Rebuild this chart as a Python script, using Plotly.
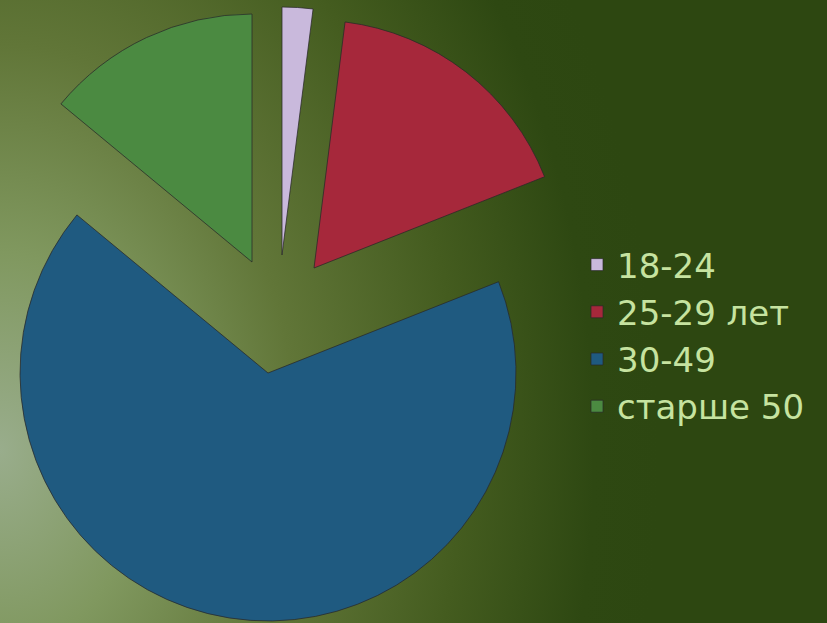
import plotly.graph_objects as go

W, H = 827, 623

labels = ["18-24", "25-29 лет", "30-49", "старше 50"]
values = [2, 17, 67, 14]
colors = ["#c9b9dc", "#a6283b", "#1f5a80", "#4b8a41"]

# where the tip of every slice sits once it has been pulled out (px)
tips_x = [282, 314, 268, 252]
tips_y = [255, 268, 373, 262]
radius = 248

# radial background, light at the left edge, dark olive on the right
bg_stops = [0, 0.22, 0.45, 0.7, 0.9, 1]
bg_colors = ["#99ad8c", "#80985f", "#617638", "#445c1f", "#2e4812", "#2d4711"]
bg_dark = "#2d4711"

fig = go.Figure()

# background glow (clipped to the plot area)
gx, gy, rx, ry = 0, 450, 660, 900
fig.add_trace(go.Scatter(
    x=[gx - rx, gx + rx, gx + rx, gx - rx, gx - rx],
    y=[gy - ry, gy - ry, gy + ry, gy + ry, gy - ry],
    mode="lines", fill="toself", line=dict(width=0),
    fillgradient=dict(type="radial", colorscale=list(zip(bg_stops, bg_colors))),
    hoverinfo="skip", showlegend=False))

# legend-only pie, tucked underneath the big slice
fig.add_trace(go.Pie(
    labels=labels, values=values, sort=False, direction="clockwise",
    marker=dict(colors=colors, line=dict(color="rgba(40,40,40,0.7)", width=1)),
    textinfo="none", hoverinfo="skip",
    domain=dict(x=[268 / W, 269 / W], y=[1 - 501 / H, 1 - 500 / H])))

# one pie per slice so every slice can be moved freely
for i in range(len(labels)):
    cx, cy = tips_x[i], tips_y[i]
    fig.add_trace(go.Pie(
        labels=labels, values=values, sort=False, direction="clockwise",
        marker=dict(colors=[c if j == i else "rgba(0,0,0,0)" for j, c in enumerate(colors)],
                    line=dict(color="rgba(40,40,40,0.75)",
                              width=[1 if j == i else 0 for j in range(len(labels))])),
        textinfo="none", showlegend=False,
        domain=dict(x=[(cx - radius) / W, (cx + radius) / W],
                    y=[1 - (cy + radius) / H, 1 - (cy - radius) / H])))

fig.update_layout(
    width=W, height=H,
    margin=dict(l=0, r=0, t=0, b=0),
    paper_bgcolor=bg_dark, plot_bgcolor=bg_dark,
    xaxis=dict(range=[0, W], visible=False, fixedrange=True),
    yaxis=dict(range=[H, 0], visible=False, fixedrange=True),
    legend=dict(x=577 / W, y=1 - 236 / H, xanchor="left", yanchor="top",
                font=dict(family="DejaVu Sans", size=34, color="#c6e3a0"),
                bgcolor="rgba(0,0,0,0)"),
    showlegend=True,
)

# drop the page's default 8px body margin so the chart sits at 0,0
fig.write_html("out.html", config={"displayModeBar": False},
               post_script="document.body.style.margin = '0';")
